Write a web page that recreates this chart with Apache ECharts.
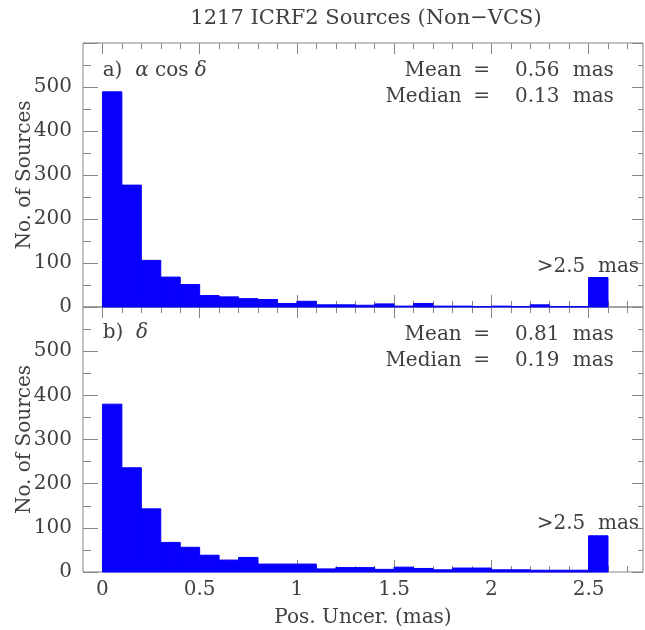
<!DOCTYPE html>
<html><head><meta charset="utf-8">
<script src="https://cdn.jsdelivr.net/npm/echarts@6/dist/echarts.min.js"></script>
<style>html,body{margin:0;padding:0;background:#fff}#c{width:645px;height:630px}</style>
</head><body><div id="c"></div>
<script>
// ---- data ----
const binStarts = [0.0,0.1,0.2,0.3,0.4,0.5,0.6,0.7,0.8,0.9,1.0,1.1,1.2,1.3,1.4,1.5,1.6,1.7,1.8,1.9,2.0,2.1,2.2,2.3,2.4,2.5]; // last bin = ">2.5 mas"
const binWidth = 0.1;
const countsRAcosDec = [489,277,106,68,51,26,23,19,17,8,13,5,5,4,7,2,8,2,2,1,2,1,5,1,1,67];
const countsDec      = [380,236,143,67,56,38,27,33,18,18,18,7,10,10,6,11,8,5,9,9,5,5,4,4,4,82];
const xMajorTicks = [0,0.5,1,1.5,2,2.5];
const xMinorTicks = [0,0.1,0.2,0.3,0.4,0.5,0.6,0.7,0.8,0.9,1.0,1.1,1.2,1.3,1.4,1.5,1.6,1.7,1.8,1.9,2.0,2.1,2.2,2.3,2.4,2.5,2.6,2.7];
const yTickLabels = [0,100,200,300,400,500];
const statNames = ['Mean','Median'];
const statsRAcosDec = ['0.56','0.13'];
const statsDec = ['0.81','0.19'];
const titleText = '1217 ICRF2 Sources (Non\u2212VCS)';
const overflowText = '>2.5  mas';

// ---- style ----
const FONT = 'DejaVu Serif';
const TXT = '#404040';
const FRAME = '#858585';
const BLUE = '#0800fc';
const XMIN = -0.1, XMAX = 2.78;

const chart = echarts.init(document.getElementById('c'), null, {renderer:'canvas'});

function xAx(gi, pos, ticks, len, extra) {
  return Object.assign({
    type:'value', gridIndex:gi, position:pos, min:XMIN, max:XMAX,
    axisLine:{show:false, onZero:false}, splitLine:{show:false},
    axisTick:{show:true, inside:true, length:len, customValues:ticks, lineStyle:{color:FRAME, width:1}},
    axisLabel:{show:false}
  }, extra || {});
}
function yAx(gi, pos, len, mlen, extra) {
  return Object.assign({
    type:'value', gridIndex:gi, position:pos, min:0, max:600, interval:100,
    axisLine:{show:false, onZero:false}, splitLine:{show:false},
    axisTick:{show:true, inside:true, length:len, lineStyle:{color:FRAME, width:1}},
    minorTick:{show:true, splitNumber:2, length:mlen, lineStyle:{color:FRAME, width:1}},
    axisLabel:{show:false}
  }, extra || {});
}
const yLabelCfg = {show:true, customValues:yTickLabels, fontFamily:FONT, fontSize:20, color:TXT, margin:11};
const yNameCfg = {name:'No. of Sources', nameLocation:'middle', nameGap:48, nameMoveOverlap:false,
  nameTextStyle:{fontFamily:FONT, fontSize:20, color:TXT}};

function histSeries(gi, xi, yi, counts) {
  return {
    type:'custom', xAxisIndex:xi, yAxisIndex:yi, clip:false,
    data: binStarts.map((s,i) => [s, s + binWidth, counts[i]]),
    encode:{x:[0,1], y:2},
    renderItem: function(params, api) {
      const p0 = api.coord([api.value(0), 0]);
      const p1 = api.coord([api.value(1), api.value(2)]);
      return {type:'rect', shape:{x:p0[0], y:p1[1], width:p1[0]-p0[0], height:p0[1]-p1[1]},
        style:{fill:BLUE, stroke:BLUE, lineWidth:1}};
    }
  };
}

function txt(x, y, text, align, extra) {
  return {type:'text', x:x, y:y, silent:true,
    style:Object.assign({text:text, fontFamily:FONT, fontSize:20, fill:TXT, align:align||'left', verticalAlign:'middle'}, extra||{})};
}
function statTexts(yTop, vals) {
  const out = [];
  vals.forEach((v,i) => {
    const y = yTop + i*26;
    out.push(txt(461.7, y, statNames[i], 'right'));
    out.push(txt(481.7, y, '=', 'center'));
    out.push(txt(515, y, v, 'left'));
    out.push(txt(572.7, y, 'mas', 'left'));
  });
  return out;
}
const richCfg = {n:{fontFamily:FONT, fontSize:20, fill:TXT}, g:{fontFamily:FONT, fontSize:20, fontStyle:'italic', fill:TXT}};

const option = {
  backgroundColor:'#ffffff',
  animation:false,
  grid:[
    {left:83, top:43, width:560, height:264, show:true, borderColor:FRAME, borderWidth:1, backgroundColor:'transparent', outerBoundsMode:'none'},
    {left:83, top:307, width:560, height:265, show:true, borderColor:FRAME, borderWidth:1, backgroundColor:'transparent', outerBoundsMode:'none'}
  ],
  xAxis:[
    xAx(0,'bottom',xMajorTicks,12),
    xAx(0,'bottom',xMinorTicks,6),
    xAx(0,'top',xMajorTicks,11),
    xAx(0,'top',xMinorTicks,6),
    xAx(1,'bottom',xMajorTicks,12,{
      axisLabel:{show:true, customValues:xMajorTicks, fontFamily:FONT, fontSize:20, color:TXT, margin:8},
      name:'Pos. Uncer. (mas)', nameLocation:'middle', nameGap:36, nameMoveOverlap:false,
      nameTextStyle:{fontFamily:FONT, fontSize:20, color:TXT}
    }),
    xAx(1,'bottom',xMinorTicks,6),
    xAx(1,'top',xMajorTicks,11),
    xAx(1,'top',xMinorTicks,6)
  ],
  yAxis:[
    yAx(0,'left',15,8,Object.assign({axisLabel:yLabelCfg}, yNameCfg)),
    yAx(0,'right',11,5),
    yAx(1,'left',15,8,Object.assign({axisLabel:yLabelCfg}, yNameCfg)),
    yAx(1,'right',11,5)
  ],
  series:[
    histSeries(0,0,0,countsRAcosDec),
    histSeries(1,4,2,countsDec)
  ],
  graphic:[
    txt(366, 19, titleText, 'center', {fontSize:21}),
    {type:'text', x:102.7, y:71, silent:true, style:{
      text:'{n|a)}  {g|\u03b1} {n|cos} {g|\u03b4}', fontFamily:FONT, fontSize:20, verticalAlign:'middle', fill:TXT, rich:richCfg}},
    {type:'text', x:102.7, y:333, silent:true, style:{
      text:'{n|b)}  {g|\u03b4}', fontFamily:FONT, fontSize:20, verticalAlign:'middle', fill:TXT, rich:richCfg}},
    ...statTexts(70.7, statsRAcosDec),
    ...statTexts(334.3, statsDec),
    txt(536.7, 266.7, overflowText, 'left'),
    txt(536.7, 523.3, overflowText, 'left')
  ]
};
chart.setOption(option);
</script></body></html>
